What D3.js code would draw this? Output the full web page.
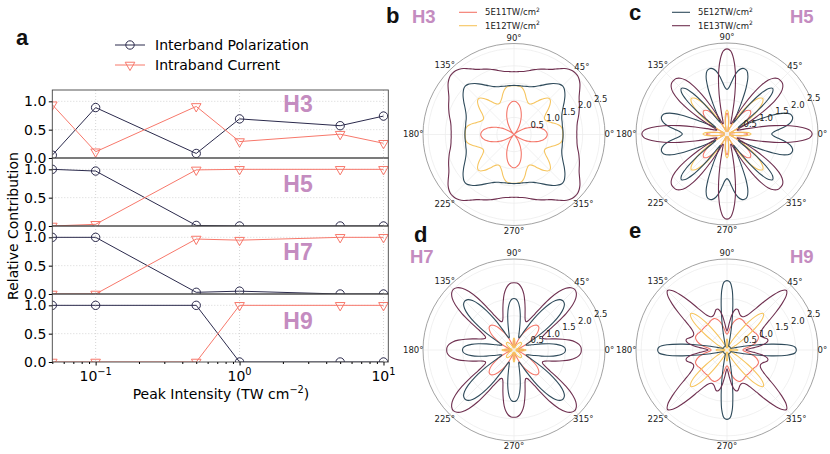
<!DOCTYPE html>
<html>
<head>
<meta charset="utf-8">
<title>Harmonic contributions</title>
<script src="https://cdn.jsdelivr.net/npm/d3@7"></script>
<style>
  body { margin: 0; background: #fff; }
  text { font-family: "DejaVu Sans", sans-serif; }
</style>
</head>
<body>
<svg id="fig" width="830" height="454"></svg>
<script>
// ---- panel a data ----
var intensity = [0.05, 0.1, 0.5, 1, 5, 10];
var harmonics = ["H3", "H5", "H7", "H9"];
var interH3 = [0.05, 0.89, 0.08, 0.69, 0.57, 0.74];
var intraH3 = [0.94, 0.11, 0.91, 0.29, 0.42, 0.26];
var interH5 = [1.0, 0.97, 0.01, 0.0, 0.0, 0.0];
var intraH5 = [0.0, 0.03, 0.99, 1.0, 1.0, 1.0];
var interH7 = [1.0, 1.0, 0.03, 0.05, 0.0, 0.0];
var intraH7 = [0.0, 0.0, 0.97, 0.95, 1.0, 1.0];
var interH9 = [1.0, 1.0, 1.0, 0.0, 0.0, 0.0];
var intraH9 = [0.0, 0.0, 0.0, 1.0, 1.0, 1.0];
var yTicks = [0, 0.5, 1.0];
var xMajor = [0.1, 1, 10];
var xMajorExp = ["\u22121", "0", "1"];
var xMinor = [0.05, 0.06, 0.07, 0.08, 0.09, 0.2, 0.3, 0.4, 0.5, 0.6, 0.7, 0.8, 0.9, 2, 3, 4, 5, 6, 7, 8, 9];

// ---- polar data: radius at 0, 2.5, ... 45 deg (pattern repeats with 4-fold mirror symmetry) ----
var h3_5e11 = [0.97, 0.96, 0.94, 0.91, 0.87, 0.82, 0.76, 0.69, 0.62, 0.55, 0.47, 0.40, 0.32, 0.25, 0.18, 0.12, 0.07, 0.03, 0.01];
var h3_1e12 = [1.42, 1.42, 1.42, 1.41, 1.38, 1.32, 1.24, 1.15, 1.08, 1.03, 1.00, 1.00, 1.03, 1.09, 1.18, 1.28, 1.37, 1.44, 1.47];
var h3_5e12 = [1.43, 1.43, 1.43, 1.43, 1.43, 1.44, 1.45, 1.46, 1.48, 1.51, 1.55, 1.60, 1.66, 1.73, 1.80, 1.87, 1.93, 1.98, 2.00];
var h3_1e13 = [1.83, 1.83, 1.84, 1.85, 1.87, 1.90, 1.94, 1.98, 2.02, 2.06, 2.10, 2.14, 2.19, 2.26, 2.34, 2.42, 2.48, 2.52, 2.53];

var h5_5e11 = [0.60, 0.57, 0.48, 0.36, 0.24, 0.15, 0.10, 0.08, 0.09, 0.13, 0.20, 0.30, 0.43, 0.57, 0.70, 0.81, 0.89, 0.94, 0.96];
var h5_1e12 = [0.70, 0.66, 0.55, 0.40, 0.26, 0.16, 0.10, 0.07, 0.08, 0.12, 0.20, 0.32, 0.48, 0.68, 0.90, 1.12, 1.30, 1.42, 1.47];
var h5_5e12 = [1.30, 1.36, 1.52, 1.72, 1.87, 1.95, 1.97, 1.93, 1.78, 1.45, 0.95, 0.55, 0.38, 0.45, 0.70, 1.15, 1.55, 1.80, 1.88];
var h5_1e13 = [2.48, 2.42, 2.20, 1.85, 1.40, 0.95, 0.60, 0.40, 0.32, 0.32, 0.42, 0.62, 0.95, 1.35, 1.72, 1.98, 2.12, 2.19, 2.20];

var h7_5e11 = [0.30, 0.28, 0.22, 0.15, 0.10, 0.08, 0.10, 0.15, 0.22, 0.30, 0.40, 0.50, 0.60, 0.70, 0.80, 0.88, 0.94, 0.98, 0.99];
var h7_1e12 = [0.35, 0.33, 0.27, 0.20, 0.13, 0.08, 0.06, 0.06, 0.08, 0.10, 0.13, 0.16, 0.19, 0.22, 0.25, 0.27, 0.29, 0.30, 0.30];
var h7_5e12 = [1.50, 1.48, 1.40, 1.25, 1.05, 0.82, 0.62, 0.48, 0.40, 0.38, 0.42, 0.55, 0.78, 1.08, 1.40, 1.68, 1.88, 1.99, 2.02];
var h7_1e13 = [1.96, 1.95, 1.90, 1.80, 1.65, 1.45, 1.25, 1.07, 0.95, 0.90, 0.92, 1.02, 1.20, 1.50, 1.85, 2.15, 2.35, 2.46, 2.50];

var h9_5e11 = [0.46, 0.48, 0.53, 0.62, 0.72, 0.81, 0.88, 0.93, 0.97, 0.99, 0.99, 0.98, 0.97, 0.95, 0.94, 0.93, 0.93, 0.93, 0.93];
var h9_1e12 = [0.32, 0.30, 0.24, 0.16, 0.10, 0.07, 0.06, 0.07, 0.09, 0.12, 0.17, 0.25, 0.36, 0.52, 0.75, 1.02, 1.27, 1.43, 1.50];
var h9_5e12 = [2.02, 1.98, 1.75, 1.30, 0.85, 0.50, 0.30, 0.20, 0.15, 0.13, 0.12, 0.12, 0.12, 0.12, 0.12, 0.12, 0.12, 0.12, 0.12];
var h9_1e13 = [0.55, 0.62, 0.80, 1.00, 1.15, 1.22, 1.22, 1.16, 1.10, 1.07, 1.07, 1.10, 1.17, 1.30, 1.50, 1.78, 2.08, 2.34, 2.45];

var intensityNames = ["5E11TW/cm", "1E12TW/cm", "5E12TW/cm", "1E13TW/cm"];
var rTicks = [0.5, 1.0, 1.5, 2.0, 2.5];
var thetaTicks = [0, 45, 90, 135, 180, 225, 270, 315];

var svg = d3.select("#fig");
var interColor = "#2b2a4c", intraColor = "#f7786b";
var curveColors = ["#f4776a", "#f6c55f", "#2f4b5b", "#6f3050"];
var hColor = "#c48cc0";

function supText(sel, base, exp, fs, after) {
  sel.append("tspan").text(base);
  sel.append("tspan").attr("dy", -fs * 0.42).attr("font-size", fs * 0.7).text(exp);
  if (after) sel.append("tspan").attr("dy", fs * 0.42).text(after);
}

// ================= panel a =================
var x = d3.scaleLog().domain([0.05, 10.8]).range([52.3, 388.3]);
var panelTop = 90, panelH = 68;
var interSets = [interH3, interH5, interH7, interH9];
var intraSets = [intraH3, intraH5, intraH7, intraH9];
var hLabelY = [112, 191.5, 260, 328.5];
var tri = d3.symbol().type(d3.symbolTriangle).size(40);
var x0 = x.range()[0], x1 = x.range()[1];

harmonics.forEach(function(h, i) {
  var top = panelTop + i * panelH, bottom = top + panelH;
  var y = d3.scaleLinear().domain([0, 1.2]).range([bottom, top]);
  var g = svg.append("g");

  svg.append("clipPath").attr("id", "clipA" + i).append("rect")
    .attr("x", x0).attr("y", top).attr("width", x1 - x0).attr("height", panelH);

  // dotted grid
  g.selectAll(".gx").data(xMajor).enter().append("line")
    .attr("x1", function(d) { return x(d); }).attr("x2", function(d) { return x(d); })
    .attr("y1", top).attr("y2", bottom)
    .attr("stroke", "#cccccc").attr("stroke-width", 0.8).attr("stroke-dasharray", "1,2");
  g.selectAll(".gy").data([0.5, 1.0]).enter().append("line")
    .attr("x1", x0).attr("x2", x1)
    .attr("y1", function(d) { return y(d); }).attr("y2", function(d) { return y(d); })
    .attr("stroke", "#cccccc").attr("stroke-width", 0.8).attr("stroke-dasharray", "1,2");

  g.append("text").attr("x", 298).attr("y", hLabelY[i]).attr("text-anchor", "middle")
    .style("font-family", "'Liberation Sans', Arial, sans-serif").attr("font-weight", "bold")
    .attr("font-size", 23).attr("fill", hColor).text(h);

  var line = d3.line()
    .x(function(d, j) { return x(intensity[j]); })
    .y(function(d) { return y(d); });
  var plot = g.append("g").attr("clip-path", "url(#clipA" + i + ")");
  plot.append("path").datum(interSets[i]).attr("d", line)
    .attr("fill", "none").attr("stroke", interColor).attr("stroke-width", 1);
  plot.append("path").datum(intraSets[i]).attr("d", line)
    .attr("fill", "none").attr("stroke", intraColor).attr("stroke-width", 1);
  plot.selectAll(".mc").data(interSets[i]).enter().append("circle")
    .attr("cx", function(d, j) { return x(intensity[j]); })
    .attr("cy", function(d) { return y(d); })
    .attr("r", 4.2).attr("fill", "none").attr("stroke", interColor).attr("stroke-width", 1);
  plot.selectAll(".mt").data(intraSets[i]).enter().append("path")
    .attr("d", tri)
    .attr("transform", function(d, j) { return "translate(" + x(intensity[j]) + "," + y(d) + ") rotate(180)"; })
    .attr("fill", "none").attr("stroke", intraColor).attr("stroke-width", 1);

  g.append("rect").attr("x", x0).attr("y", top).attr("width", x1 - x0).attr("height", panelH)
    .attr("fill", "none").attr("stroke", "#444").attr("stroke-width", 0.9);

  var ya = g.append("g").attr("transform", "translate(" + x0 + ",0)")
    .call(d3.axisLeft(y).tickValues(yTicks).tickFormat(d3.format(".1f")).tickSize(3.5).tickPadding(2.5));
  ya.attr("font-size", 14).attr("font-family", "DejaVu Sans");
  ya.select(".domain").remove();

  if (i === harmonics.length - 1) {
    var xa = g.append("g").attr("transform", "translate(0," + bottom + ")")
      .call(d3.axisBottom(x).tickValues(xMajor).tickFormat("").tickSize(3.5));
    xa.select(".domain").remove();
    var xm = g.append("g").attr("transform", "translate(0," + bottom + ")")
      .call(d3.axisBottom(x).tickValues(xMinor).tickFormat("").tickSize(2));
    xm.select(".domain").remove();
    xMajor.forEach(function(v, k) {
      var t = g.append("text").attr("x", x(v)).attr("y", bottom + 18.5)
        .attr("text-anchor", "middle").attr("font-size", 14);
      supText(t, "10", xMajorExp[k], 14);
    });
  }
});

var xl = svg.append("text").attr("x", 221).attr("y", 399).attr("text-anchor", "middle").attr("font-size", 14);
supText(xl, "Peak Intensity (TW cm", "\u22122", 14, ")");

svg.append("text").attr("transform", "translate(18,226) rotate(-90)")
  .attr("text-anchor", "middle").attr("font-size", 14).text("Relative Contribution");

// legend of panel a
var legA = [{ name: "Interband Polarization", color: interColor, m: "c" },
            { name: "Intraband Current", color: intraColor, m: "t" }];
legA.forEach(function(d, k) {
  var ly = 45 + k * 20;
  svg.append("line").attr("x1", 115).attr("x2", 145).attr("y1", ly).attr("y2", ly)
    .attr("stroke", d.color).attr("stroke-width", 1);
  if (d.m === "c") {
    svg.append("circle").attr("cx", 130).attr("cy", ly).attr("r", 4.2)
      .attr("fill", "none").attr("stroke", d.color).attr("stroke-width", 1);
  } else {
    svg.append("path").attr("d", tri).attr("transform", "translate(130," + ly + ") rotate(180)")
      .attr("fill", "none").attr("stroke", d.color).attr("stroke-width", 1);
  }
  svg.append("text").attr("x", 155).attr("y", ly).attr("dy", "0.35em")
    .attr("font-size", 14).text(d.name);
});

// panel letters
function letter(t, lx, ly) {
  svg.append("text").attr("x", lx).attr("y", ly).text(t)
    .style("font-family", "'Liberation Sans', Arial, sans-serif")
    .attr("font-weight", "bold").attr("font-size", 22).attr("fill", "#111");
}
letter("a", 16, 45);
letter("b", 386, 23);
letter("c", 629, 20);
letter("d", 414, 242);
letter("e", 629, 238);

// ================= polar panels =================
var rMax = 2.65, polarR = 91;
var rs = d3.scaleLinear().domain([0, rMax]).range([0, polarR]);
var octStep = 2.5;
function expand(oct) {
  return d3.range(0, 360, octStep).map(function(th) {
    var t = th % 90;
    var k = t <= 45 ? t / octStep : (90 - t) / octStep;
    return [th, oct[Math.round(k)]];
  });
}
var radial = d3.lineRadial()
  .angle(function(d) { return (90 - d[0]) * Math.PI / 180; })
  .radius(function(d) { return rs(d[1]); })
  .curve(d3.curveCatmullRomClosed.alpha(0.5));

var polars = [
  { cx: 514, cy: 134.5, h: "H3", hx: 412, hy: 23, curves: [h3_5e11, h3_1e12, h3_5e12, h3_1e13] },
  { cx: 727, cy: 134, h: "H5", hx: 790, hy: 23, curves: [h5_5e11, h5_1e12, h5_5e12, h5_1e13] },
  { cx: 514, cy: 350, h: "H7", hx: 410, hy: 263, curves: [h7_5e11, h7_1e12, h7_5e12, h7_1e13] },
  { cx: 727, cy: 350, h: "H9", hx: 790, hy: 263, curves: [h9_5e11, h9_1e12, h9_5e12, h9_1e13] }
];

polars.forEach(function(p) {
  var g = svg.append("g").attr("transform", "translate(" + p.cx + "," + p.cy + ")");
  g.selectAll(".rg").data(rTicks).enter().append("circle")
    .attr("r", function(d) { return rs(d); })
    .attr("fill", "none").attr("stroke", "#ebebeb").attr("stroke-width", 0.7);
  g.selectAll(".tg").data(thetaTicks).enter().append("line")
    .attr("x1", 0).attr("y1", 0)
    .attr("x2", function(d) { return polarR * Math.cos(d * Math.PI / 180); })
    .attr("y2", function(d) { return -polarR * Math.sin(d * Math.PI / 180); })
    .attr("stroke", "#ebebeb").attr("stroke-width", 0.7);
  g.append("circle").attr("r", polarR).attr("fill", "none").attr("stroke", "#8a8a8a").attr("stroke-width", 0.8);

  p.curves.forEach(function(c, k) {
    g.append("path").datum(expand(c)).attr("d", radial)
      .attr("fill", "none").attr("stroke", curveColors[k]).attr("stroke-width", 1.1);
  });

  var a = 22.5 * Math.PI / 180;
  g.selectAll(".rl").data(rTicks).enter().append("text")
    .attr("x", function(d) { return (rs(d) + 8) * Math.cos(a); })
    .attr("y", function(d) { return -(rs(d) + 8) * Math.sin(a); })
    .attr("dy", "0.35em").attr("text-anchor", "middle")
    .attr("font-size", 8.5).attr("fill", "#222")
    .text(function(d) { return d.toFixed(1); });

  thetaTicks.forEach(function(d) {
    var t = g.append("text").attr("font-size", 8.5).attr("fill", "#222")
      .attr("text-anchor", "middle").attr("dy", "0.35em").text(d + "\u00b0");
    var w = t.node().getComputedTextLength();
    var ang = d * Math.PI / 180;
    var dist = polarR + Math.max((w / 2 - 0.5) * Math.abs(Math.cos(ang)), 5.5 * Math.abs(Math.sin(ang)));
    t.attr("x", dist * Math.cos(ang)).attr("y", -dist * Math.sin(ang));
  });

  svg.append("text").attr("x", p.hx).attr("y", p.hy)
    .style("font-family", "'Liberation Sans', Arial, sans-serif")
    .attr("font-weight", "bold").attr("font-size", 18.5).attr("fill", hColor).text(p.h);
});

// polar legends
function polarLegend(lx, idx) {
  idx.forEach(function(k, j) {
    var ly = 12.3 + j * 13.4;
    svg.append("line").attr("x1", lx).attr("x2", lx + 18).attr("y1", ly).attr("y2", ly)
      .attr("stroke", curveColors[k]).attr("stroke-width", 1.1);
    var t = svg.append("text").attr("x", lx + 26).attr("y", ly + 3).attr("font-size", 8.5).attr("fill", "#222");
    supText(t, intensityNames[k], "2", 8.5);
  });
}
polarLegend(459, [0, 1]);
polarLegend(672, [2, 3]);
</script>
</body>
</html>
